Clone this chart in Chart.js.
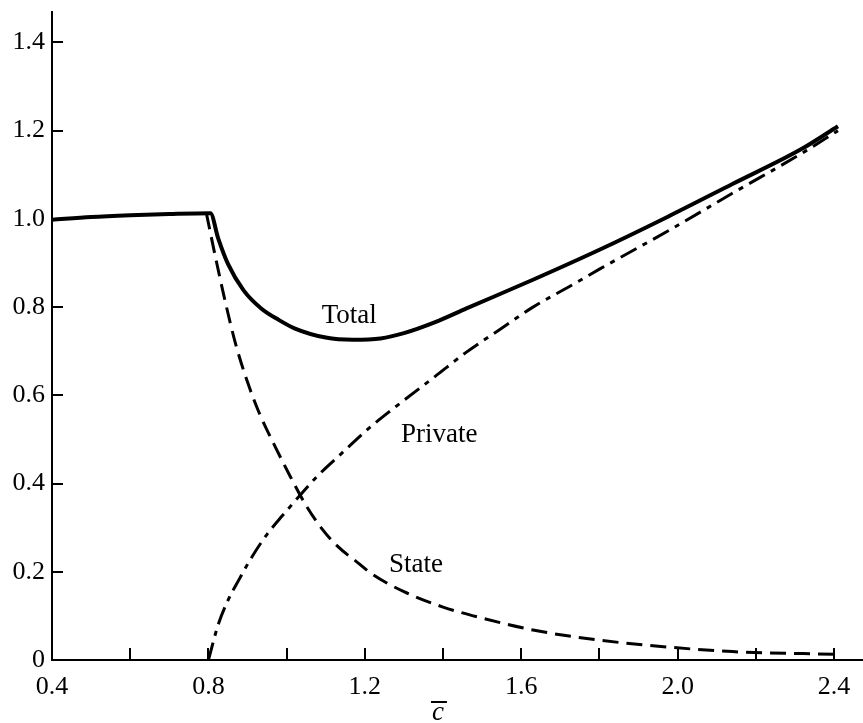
<!DOCTYPE html>
<html>
<head>
<meta charset="utf-8">
<title>Total, private and state output against c̄</title>
<script src="https://cdn.jsdelivr.net/npm/chart.js@4/dist/chart.umd.min.js"></script>
<style>
  html, body { margin: 0; padding: 0; background: #ffffff; }
  canvas { display: block; }
</style>
</head>
<body>
<canvas id="chart" width="863" height="723"></canvas>
<script>
// Total curve: flat until c̄ ≈ 0.8, then a dip and a steady rise
const totalC = [0.40, 0.50, 0.60, 0.70, 0.805, 0.825, 0.85, 0.89, 0.935, 0.98, 1.02, 1.10, 1.17, 1.24, 1.30, 1.38, 1.46, 1.63, 1.80, 1.975, 2.14, 2.32, 2.41];
const totalV = [0.998, 1.004, 1.008, 1.011, 1.013, 0.956, 0.898, 0.838, 0.797, 0.771, 0.752, 0.731, 0.726, 0.729, 0.741, 0.766, 0.797, 0.862, 0.930, 1.005, 1.079, 1.160, 1.210];

// State share: falls from the kink towards zero
const stateC = [0.795, 0.82, 0.845, 0.87, 0.90, 0.93, 0.97, 1.01, 1.05, 1.09, 1.13, 1.18, 1.22, 1.30, 1.40, 1.50, 1.63, 1.80, 1.98, 2.14, 2.40];
const stateV = [1.012, 0.905, 0.805, 0.715, 0.630, 0.560, 0.485, 0.415, 0.350, 0.298, 0.258, 0.222, 0.194, 0.155, 0.120, 0.095, 0.068, 0.045, 0.029, 0.019, 0.013];

// Private share: rises from zero at the kink
const privateC = [0.80, 0.825, 0.85, 0.88, 0.91, 0.95, 0.99, 1.035, 1.08, 1.14, 1.21, 1.27, 1.38, 1.46, 1.55, 1.63, 1.72, 1.80, 1.98, 2.14, 2.32, 2.41];
const privateV = [0.000, 0.080, 0.135, 0.185, 0.232, 0.285, 0.328, 0.374, 0.418, 0.468, 0.525, 0.568, 0.643, 0.698, 0.752, 0.800, 0.845, 0.886, 0.975, 1.058, 1.150, 1.200];

// Axis ticks (x labels every 0.4, marks every 0.2)
const xTicks = [0.4, 0.6, 0.8, 1.0, 1.2, 1.4, 1.6, 1.8, 2.0, 2.2, 2.4];
const xLabelled = [0.4, 0.8, 1.2, 1.6, 2.0, 2.4];
const yTicks = [0, 0.2, 0.4, 0.6, 0.8, 1.0, 1.2, 1.4];

// Curve names
const curveNames = ['Total', 'Private', 'State'];

const pts = (xs, ys) => xs.map((x, i) => ({ x: x, y: ys[i] }));

const SERIF = '"Liberation Serif", "Times New Roman", "DejaVu Serif", serif';

// Where each curve name sits, in data units (centre x, baseline y)
const nameAnchors = [
  { x: 1.160, y: 0.764 },
  { x: 1.390, y: 0.494 },
  { x: 1.331, y: 0.200 }
];

// Inward tick marks, curve names and the c̄ axis symbol
const decorations = {
  id: 'decorations',
  afterDraw(chart) {
    const ctx = chart.ctx;
    const xs = chart.scales.x;
    const ys = chart.scales.y;
    const area = chart.chartArea;
    ctx.save();
    ctx.strokeStyle = '#000';
    ctx.lineWidth = 2;
    ctx.lineCap = 'butt';
    ctx.beginPath();
    xTicks.forEach(v => {
      if (v === xs.min) return;
      const px = Math.round(xs.getPixelForValue(v));
      ctx.moveTo(px, area.bottom);
      ctx.lineTo(px, area.bottom - 12);
    });
    yTicks.forEach(v => {
      if (v === ys.min) return;
      const py = Math.round(ys.getPixelForValue(v));
      ctx.moveTo(area.left, py);
      ctx.lineTo(area.left + 11, py);
    });
    ctx.stroke();

    ctx.fillStyle = '#000';
    ctx.font = '27px ' + SERIF;
    ctx.textAlign = 'center';
    ctx.textBaseline = 'alphabetic';
    curveNames.forEach((name, i) => {
      const a = nameAnchors[i];
      ctx.fillText(name, xs.getPixelForValue(a.x), ys.getPixelForValue(a.y));
    });

    // axis symbol: italic c with a bar over it
    const cx = xs.getPixelForValue(1.387);
    const base = 720;
    ctx.font = 'italic 27px ' + SERIF;
    ctx.fillText('c', cx, base);
    const w = ctx.measureText('c').width;
    ctx.beginPath();
    ctx.lineWidth = 2;
    ctx.moveTo(cx - w / 2 - 1, base - 18);
    ctx.lineTo(cx + w / 2 + 3, base - 18);
    ctx.stroke();
    ctx.restore();
  }
};

new Chart(document.getElementById('chart'), {
  type: 'line',
  data: {
    datasets: [
      {
        label: curveNames[0],
        data: pts(totalC, totalV),
        borderColor: '#000',
        borderWidth: 4,
        pointRadius: 0,
        cubicInterpolationMode: 'monotone',
        fill: false
      },
      {
        label: curveNames[1],
        data: pts(privateC, privateV),
        borderColor: '#000',
        borderWidth: 3,
        borderDash: [18, 7, 5, 7],
        pointRadius: 0,
        cubicInterpolationMode: 'monotone',
        fill: false
      },
      {
        label: curveNames[2],
        data: pts(stateC, stateV),
        borderColor: '#000',
        borderWidth: 3,
        borderDash: [16, 8],
        pointRadius: 0,
        cubicInterpolationMode: 'monotone',
        fill: false
      }
    ]
  },
  options: {
    responsive: false,
    animation: false,
    devicePixelRatio: 1,
    layout: { padding: { top: 12, right: 0, bottom: 0, left: 0 } },
    plugins: {
      legend: { display: false },
      tooltip: { enabled: false }
    },
    scales: {
      x: {
        type: 'linear',
        min: 0.4,
        max: 2.474,
        grid: { display: false, drawTicks: false },
        border: { display: true, color: '#000', width: 2 },
        afterBuildTicks: s => { s.ticks = xTicks.map(v => ({ value: v })); },
        afterFit: s => { s.height = 63; s.paddingLeft = 0; s.paddingRight = 0; },
        ticks: {
          autoSkip: false,
          maxRotation: 0,
          padding: 12,
          color: '#000',
          font: { family: SERIF, size: 26 },
          callback: v => xLabelled.some(t => Math.abs(t - v) < 1e-6) ? v.toFixed(1) : ''
        }
      },
      y: {
        type: 'linear',
        min: 0,
        max: 1.469,
        grid: { display: false, drawTicks: false },
        border: { display: true, color: '#000', width: 2 },
        afterBuildTicks: s => { s.ticks = yTicks.map(v => ({ value: v })); },
        afterFit: s => { s.width = 52; s.paddingTop = 0; s.paddingBottom = 0; },
        ticks: {
          autoSkip: false,
          padding: 7,
          color: '#000',
          font: { family: SERIF, size: 26 },
          callback: v => v === 0 ? '0' : v.toFixed(1)
        }
      }
    }
  },
  plugins: [decorations]
});
</script>
</body>
</html>
